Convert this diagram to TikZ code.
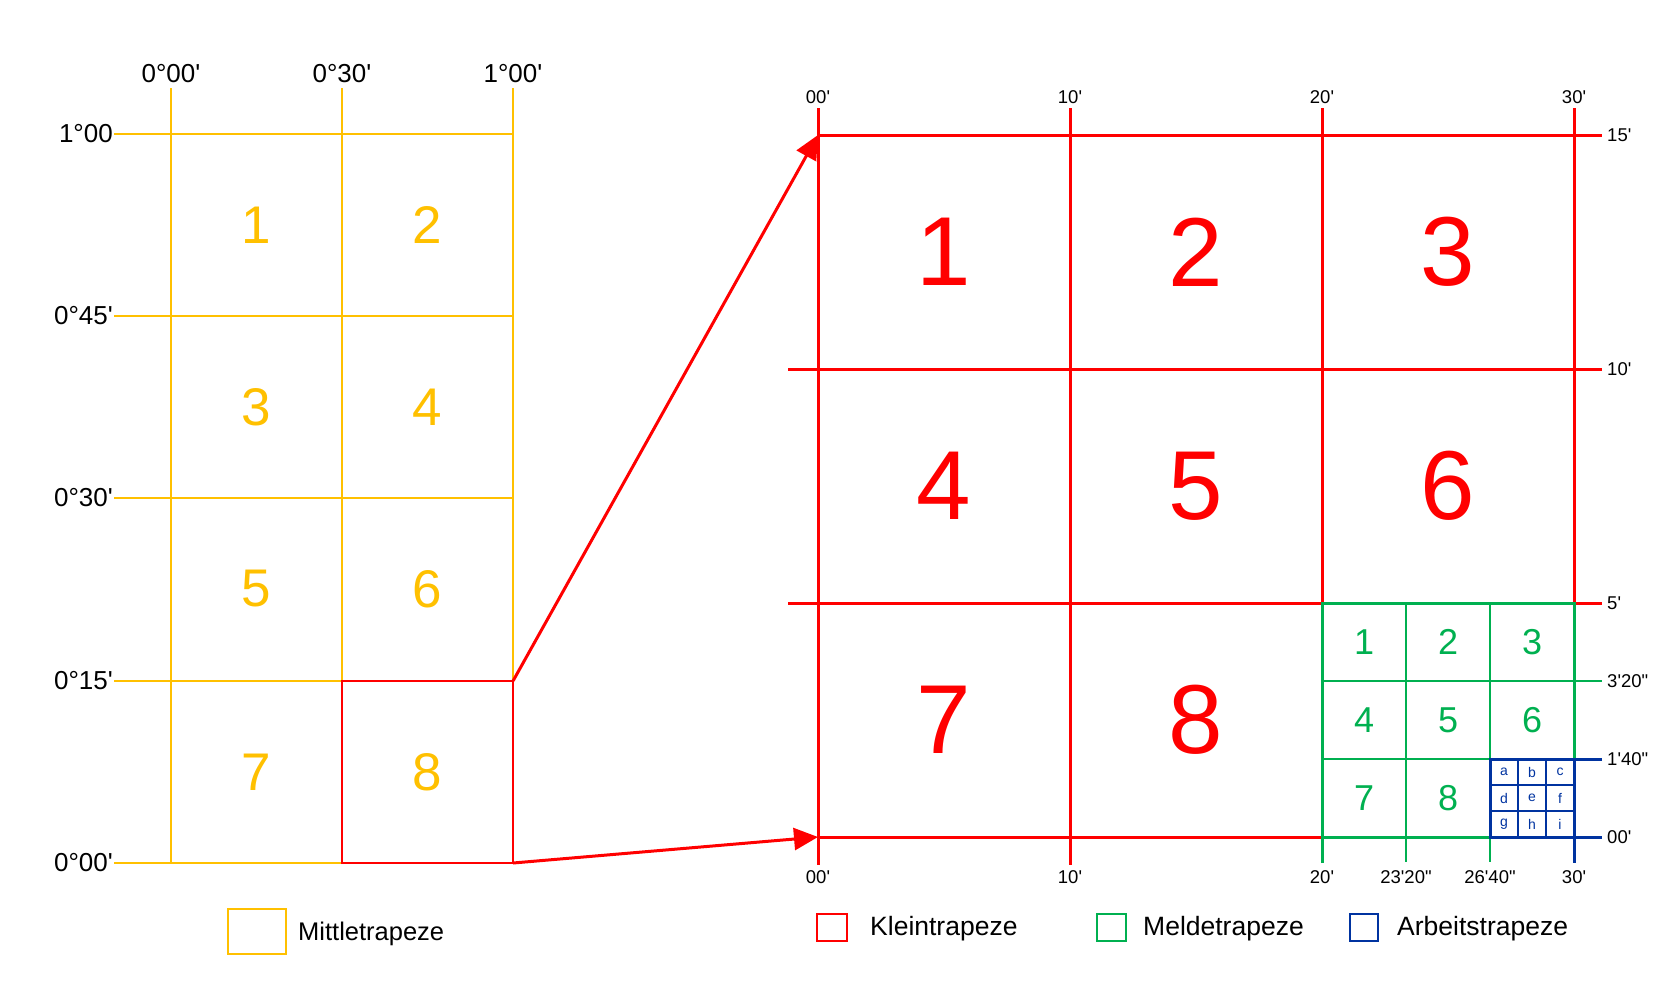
\documentclass[tikz,border=0pt]{standalone}
\usepackage{fontspec}
\newfontfamily\arialfont{Liberation Sans}
\usetikzlibrary{arrows.meta}

\definecolor{mgold}{HTML}{FFC000}
\definecolor{mgreen}{HTML}{00B050}
\definecolor{mblue}{HTML}{0033A0}
\definecolor{mred}{HTML}{FF0000}
\newcommand{\fsz}[1]{\arialfont\fontsize{#1}{#1}\selectfont}

\begin{document}
\begin{tikzpicture}[
    x=1pt, y=-1pt,
    mittel/.style={draw=mgold,line width=2pt},
    klein/.style={draw=mred,line width=3pt},
    melde/.style={draw=mgreen,line width=2pt},
    arbeit/.style={draw=mblue,line width=2pt},
    deg/.style={font=\fsz{26},inner sep=0pt},
    tick/.style={font=\fsz{18.5},inner sep=0pt},
    mnum/.style={text=mgold,font=\fsz{53}},
    knum/.style={text=mred,font=\fsz{98}},
    gnum/.style={text=mgreen,font=\fsz{36}},
    bnum/.style={text=mblue,font=\fsz{14},inner sep=0pt},
    legend/.style={font=\fsz{26.5},anchor=west,inner sep=0pt},
    zoomarrow/.style={draw=mred,line width=3pt,-{Triangle[length=24pt,width=22pt]}}
]
    \useasboundingbox (0,0) rectangle (1675,996);

    % Mittletrapeze grid
    \draw[mittel] (171,88) -- (171,863);
    \draw[mittel] (342,88) -- (342,863);
    \draw[mittel] (513,88) -- (513,863);
    \foreach \y in {134,316,498,681,863}
        \draw[mittel] (114,\y) -- (513,\y);
    \draw[mred,line width=2.5pt] (342,681) rectangle (513,863);

    \node[deg] (lon0) at (171,74) {0°00'};
    \node[deg] (lon1) at (342,74) {0°30'};
    \node[deg] (lon2) at (513,74) {1°00'};
    \node[deg,anchor=east] (lat4) at (113,134) {1°00};
    \node[deg,anchor=east] (lat3) at (113,316) {0°45'};
    \node[deg,anchor=east] (lat2) at (113,498) {0°30'};
    \node[deg,anchor=east] (lat1) at (113,681) {0°15'};
    \node[deg,anchor=east] (lat0) at (113,863) {0°00'};

    \foreach \n/\x/\y in {1/256/225,2/427/225,3/256/407,4/427/407,
                          5/256/589,6/427/589,7/256/772,8/427/772}
        \node[mnum] (m\n) at (\x,\y) {\n};

    % Kleintrapeze grid
    \foreach \x in {818,1070}
        \draw[klein] (\x,108) -- (\x,865);
    \foreach \x in {1322,1574}
        \draw[klein] (\x,108) -- (\x,603);
    \draw[klein] (818,135) -- (1602,135);
    \draw[klein] (788,369) -- (1602,369);
    \draw[klein] (788,603) -- (1322,603);
    \draw[klein] (1574,603) -- (1602,603);
    \draw[klein] (818,837) -- (1322,837);

    \foreach \n/\x/\y in {1/944/252,2/1196/252,3/1448/252,4/944/486,
                          5/1196/486,6/1448/486,7/944/720,8/1196/720}
        \node[knum] (k\n) at (\x,\y) {\n};

    % Meldetrapeze
    \draw[melde] (1406,603) -- (1406,862);
    \draw[melde] (1490,603) -- (1490,862);
    \draw[melde] (1322,681) -- (1602,681);
    \draw[melde] (1322,759) -- (1490,759);
    \draw[melde,line width=3pt] (1322,863) -- (1322,603) -- (1574,603) -- (1574,759);
    \draw[melde,line width=3pt] (1322,837) -- (1490,837);

    \foreach \n/\x/\y in {1/1364/642,2/1448/642,3/1532/642,4/1364/720,
                          5/1448/720,6/1532/720,7/1364/798,8/1448/798}
        \node[gnum] (g\n) at (\x,\y) {\n};

    % Arbeitstrapeze
    \draw[arbeit] (1518,759) -- (1518,837);
    \draw[arbeit] (1546,759) -- (1546,837);
    \draw[arbeit] (1490,785) -- (1574,785);
    \draw[arbeit] (1490,811) -- (1574,811);
    \draw[arbeit,line width=3pt] (1602,759) -- (1490,759) -- (1490,837) -- (1602,837);
    \draw[arbeit,line width=3pt] (1574,759) -- (1574,863);

    \foreach \n/\x/\y in {a/1504/772,b/1532/772,c/1560/772,d/1504/798,e/1532/798,
                          f/1560/798,g/1504/824,h/1532/824,i/1560/824}
        \node[bnum] (b\n) at (\x,\y) {\n};

    % minute labels
    \node[tick] (top0) at (818,97) {00'};
    \node[tick] (top1) at (1070,97) {10'};
    \node[tick] (top2) at (1322,97) {20'};
    \node[tick] (top3) at (1574,97) {30'};
    \node[tick] (bot0) at (818,877) {00'};
    \node[tick] (bot1) at (1070,877) {10'};
    \node[tick] (bot2) at (1322,877) {20'};
    \node[tick] (bot3) at (1406,877) {23'20"};
    \node[tick] (bot4) at (1490,877) {26'40"};
    \node[tick] (bot5) at (1574,877) {30'};
    \node[tick,anchor=west] (rgt0) at (1607,135) {15'};
    \node[tick,anchor=west] (rgt1) at (1607,369) {10'};
    \node[tick,anchor=west] (rgt2) at (1607,603) {5'};
    \node[tick,anchor=west] (rgt3) at (1607,681) {3'20"};
    \node[tick,anchor=west] (rgt4) at (1607,759) {1'40"};
    \node[tick,anchor=west] (rgt5) at (1607,837) {00'};

    % zoom arrows
    \coordinate (m8ne) at (513,681);
    \coordinate (m8se) at (513,863);
    \coordinate (knw) at (818,135);
    \coordinate (ksw) at (818,837);
    \draw[zoomarrow] (m8ne) -- (knw);
    \draw[zoomarrow] (m8se) -- (ksw);

    % legend
    \draw[mgold,line width=2.5pt] (228,909) rectangle (286,954);
    \node[legend,font=\fsz{25.5}] (lgm) at (298,934) {Mittletrapeze};
    \draw[mred,line width=2pt] (817,914) rectangle (847,941);
    \node[legend] (lgk) at (870,929) {Kleintrapeze};
    \draw[mgreen,line width=2pt] (1097,914) rectangle (1126,941);
    \node[legend] (lgg) at (1143,929) {Meldetrapeze};
    \draw[mblue,line width=2pt] (1350,914) rectangle (1378,941);
    \node[legend] (lga) at (1397,929) {Arbeitstrapeze};
\end{tikzpicture}
\end{document}
